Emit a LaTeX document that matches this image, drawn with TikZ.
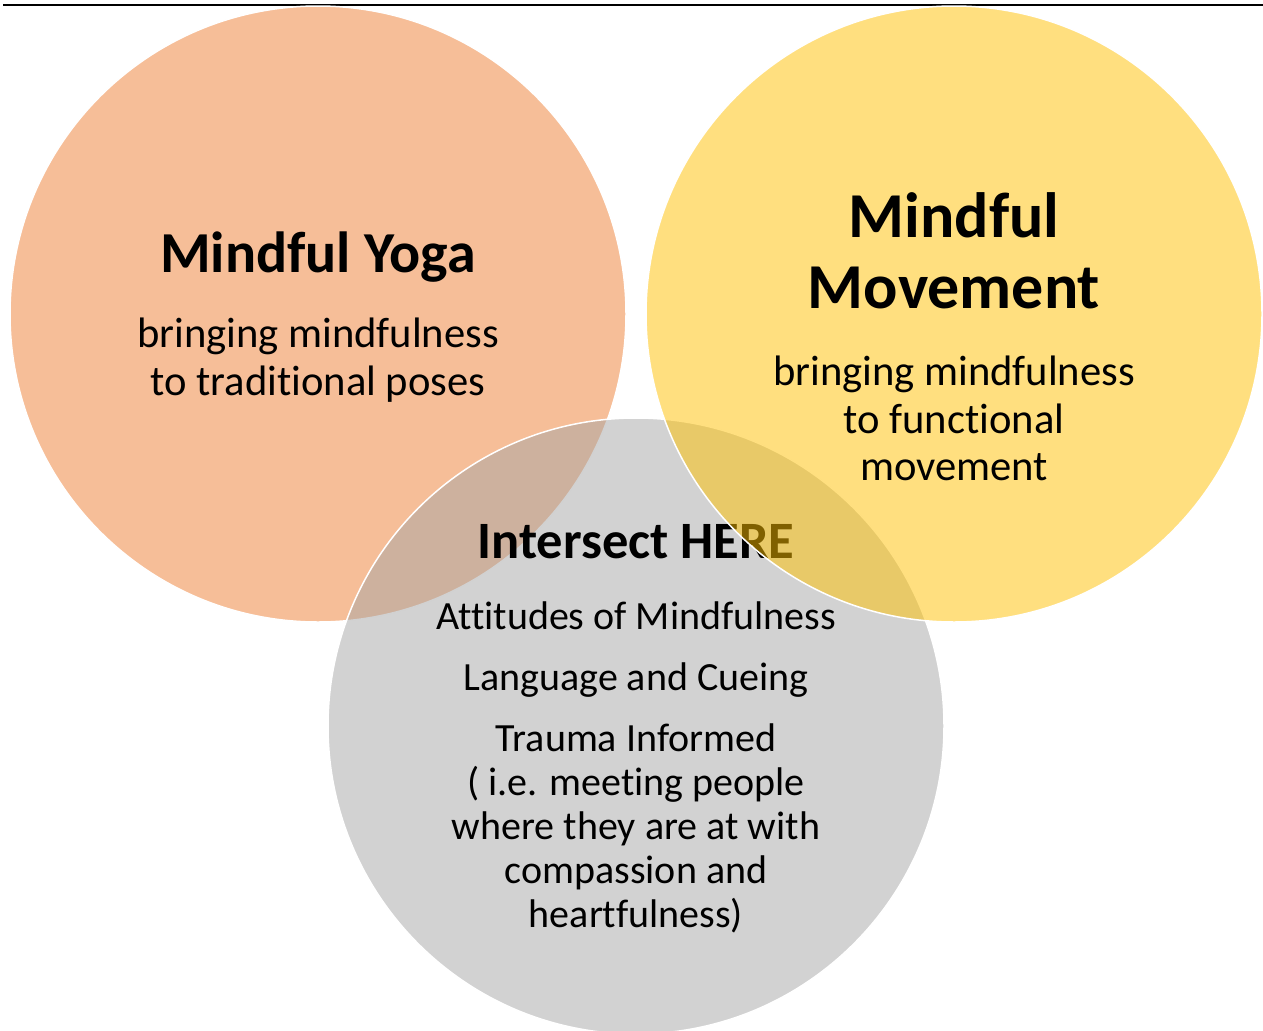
\documentclass[tikz,border=0pt]{standalone}
\usepackage{fontspec}
\setmainfont{Carlito}[Ligatures=NoCommon]
\usepackage{tikz}

\definecolor{yogaorange}{HTML}{ED7D31}
\definecolor{movegold}{HTML}{FFC000}
\definecolor{heregray}{HTML}{A5A5A5}

\tikzset{
  ring/.style={circle,minimum size=616bp,inner sep=0pt,draw=white,line width=1.5bp,fill opacity=0.5},
  titleline/.style={anchor=base,inner sep=0pt,font=\fontsize{58bp}{70bp}\selectfont\bfseries},
  bigtitleline/.style={anchor=base,inner sep=0pt,font=\fontsize{64bp}{72bp}\selectfont\bfseries},
  hereline/.style={anchor=base,inner sep=0pt,font=\fontsize{52.5bp}{60bp}\selectfont\bfseries},
  bodyline/.style={anchor=base,inner sep=0pt,font=\fontsize{42.6bp}{47bp}\selectfont},
  grayline/.style={anchor=base,inner sep=0pt,font=\fontsize{40bp}{44bp}\selectfont}
}

\begin{document}
\begin{tikzpicture}
\useasboundingbox (0bp,0bp) rectangle (1263bp,-1031bp);

\coordinate (rulestart) at (3bp,-5bp);
\coordinate (ruleend) at (1263bp,-5bp);
\draw [line width=2.5bp] (rulestart) to (ruleend);

\node (Yoga) at (318bp,-314bp)[ring,fill=yogaorange] {};
\node (YogaT) at (318bp,-272bp)[titleline] {Mindful Yoga};
\node (YogaA) at (318bp,-347bp)[bodyline] {bringing mindfulness};
\node (YogaB) at (318bp,-395bp)[bodyline] {to traditional poses};

\node (Here) at (636bp,-726bp)[ring,fill=heregray] {};
\node (HereT) at (636bp,-558bp)[hereline] {Intersect HERE};
\node (HereA) at (636bp,-629bp)[grayline] {Attitudes of Mindfulness};
\node (HereB) at (636bp,-690bp)[grayline] {Language and Cueing};
\node (HereC) at (636bp,-751bp)[grayline] {Trauma Informed};
\node (HereD) at (636bp,-795bp)[grayline] {( i.e. meeting people};
\node (HereE) at (636bp,-839bp)[grayline] {where they are at with};
\node (HereF) at (636bp,-883bp)[grayline] {compassion and};
\node (HereG) at (636bp,-927bp)[grayline] {heartfulness)};

\node (Move) at (954bp,-314bp)[ring,fill=movegold] {};
\node (MoveT) at (954bp,-237bp)[bigtitleline] {Mindful};
\node (MoveU) at (954bp,-308bp)[bigtitleline] {Movement};
\node (MoveA) at (954bp,-385bp)[bodyline] {bringing mindfulness};
\node (MoveB) at (954bp,-433bp)[bodyline] {to functional};
\node (MoveC) at (954bp,-480bp)[bodyline] {movement};
\end{tikzpicture}
\end{document}
